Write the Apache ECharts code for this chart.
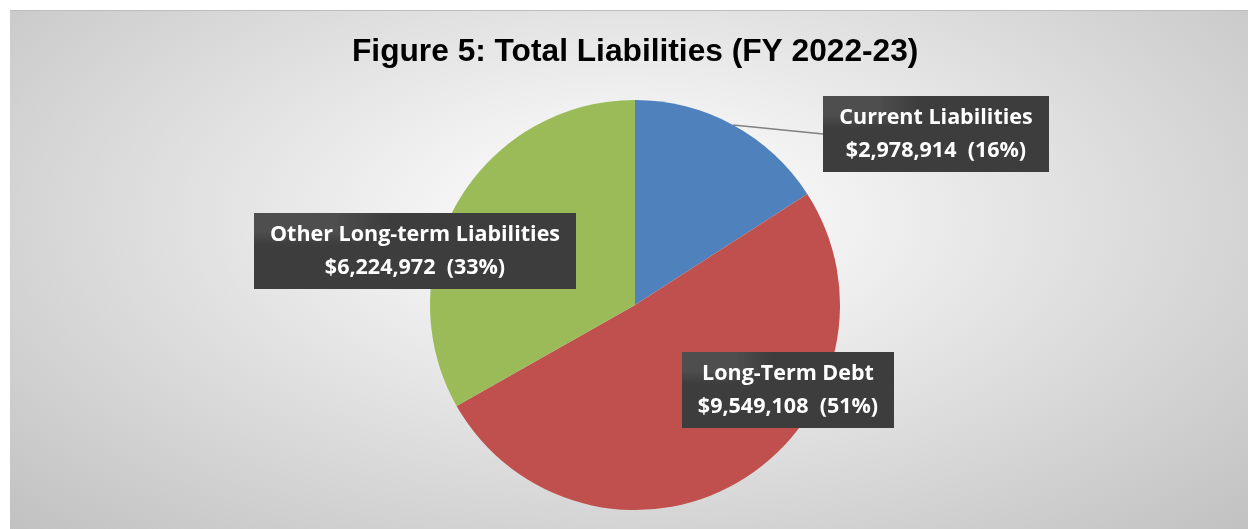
<!DOCTYPE html>
<html>
<head>
<meta charset="utf-8">
<script src="https://cdn.jsdelivr.net/npm/echarts@6/dist/echarts.min.js"></script>
<style>
  html, body { margin: 0; padding: 0; background: #fff; }
  #bg {
    position: absolute; left: 10px; top: 10px; width: 1238px; height: 519px;
    box-sizing: border-box; border-top: 1px solid #bdbdbd;
    background: radial-gradient(ellipse at 50% 40%, #ffffff 0%, #f3f3f3 22%, #c1c1c1 100%);
  }
  #main { position: absolute; left: 0; top: 0; width: 1248px; height: 529px; }
</style>
</head>
<body>
<div id="bg"></div>
<div id="main"></div>
<script>
// data
var categories = ['Current Liabilities', 'Long-Term Debt', 'Other Long-term Liabilities'];
var amounts = [2978914, 9549108, 6224972];
var colors = ['#4f81bd', '#c0504d', '#9bbb59'];

// where each callout box sits (centre, px)
var labelCenters = [[936, 134], [788, 390], [415, 251]];

// dotted dark fill for callout boxes
function dotPattern() {
  var c = document.createElement('canvas');
  c.width = 6; c.height = 6;
  var ctx = c.getContext('2d');
  ctx.fillStyle = '#3d3d3d';
  ctx.fillRect(0, 0, 6, 6);
  ctx.fillStyle = '#4e4e4e';
  ctx.fillRect(0, 0, 2, 2);
  return c;
}
var pattern = dotPattern();

var data = categories.map(function (name, i) {
  return {
    name: name,
    value: amounts[i],
    itemStyle: { color: colors[i] },
    labelLine: { show: i === 0 }
  };
});

var chart = echarts.init(document.getElementById('main'));
chart.setOption({
  backgroundColor: 'transparent',
  animation: false,
  title: {
    text: 'Figure 5: Total Liabilities (FY 2022-23)',
    left: 347,
    top: 31,
    textStyle: {
      fontFamily: 'Liberation Sans, Arial, sans-serif',
      fontWeight: 'bold',
      fontSize: 31.7,
      color: '#000'
    }
  },
  series: [{
    type: 'pie',
    center: [635, 305],
    radius: 205,
    startAngle: 90,
    clockwise: true,
    data: data,
    label: {
      show: true,
      position: 'outside',
      formatter: function (p) {
        return p.name + '\n$' + p.value.toLocaleString('en-US') + '  (' + Math.round(p.percent) + '%)';
      },
      color: '#fff',
      fontFamily: 'Open Sans, sans-serif',
      fontWeight: 'bold',
      fontSize: 21.5,
      lineHeight: 33,
      align: 'center',
      padding: [5, 16],
      backgroundColor: { image: pattern, repeat: 'repeat' },
      shadowColor: 'rgba(0,0,0,0.45)',
      shadowBlur: 5,
      shadowOffsetX: 4,
      shadowOffsetY: 4
    },
    labelLine: {
      show: true,
      length: 0,
      length2: 0,
      lineStyle: { color: '#808080', width: 1.5 }
    },
    labelLayout: function (p) {
      var c = labelCenters[p.dataIndex];
      return { x: c[0], y: c[1], align: 'center', verticalAlign: 'middle' };
    },
    emphasis: { disabled: true }
  }]
});
</script>
</body>
</html>
